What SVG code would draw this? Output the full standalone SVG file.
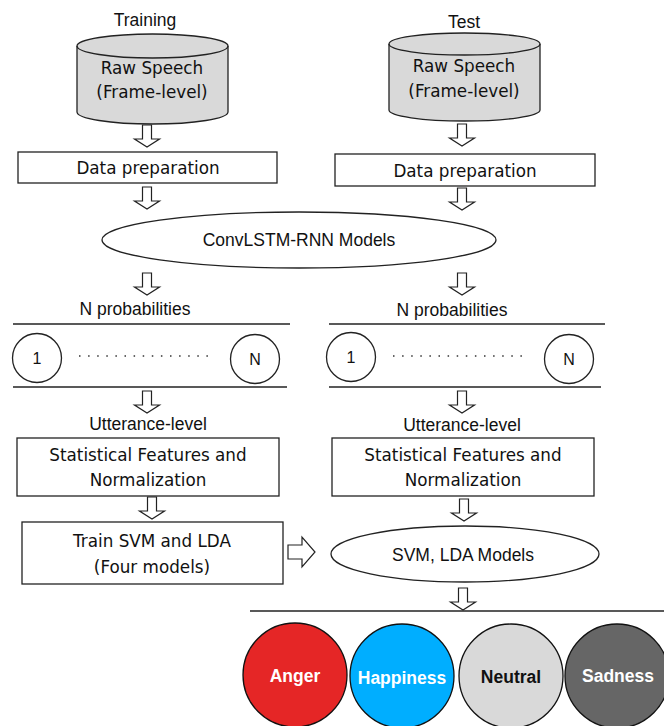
<svg xmlns="http://www.w3.org/2000/svg" width="664" height="726" viewBox="0 0 664 726">
<style>
text{font-family:"Liberation Sans",Arial,sans-serif;fill:#111;text-anchor:middle}
.t{font-size:17.5px}
.l{font-family:"DejaVu Sans","Liberation Sans",sans-serif;font-size:16.8px}
.n{font-size:16px}
.b{font-size:17.5px;font-weight:bold}
.box{fill:#fff;stroke:#222;stroke-width:1.3}
.cyl{fill:#d9d9d9;stroke:#222;stroke-width:1.3}
.ln{stroke:#222;stroke-width:1.3;fill:none}
.arr{fill:#fff;stroke:#222;stroke-width:1.2}
.dots{stroke:#333;stroke-width:1.5;stroke-dasharray:1.5 7.6;fill:none}
</style>
<defs>
<path id="darr" d="M-4.5,0 V14 H-12.5 L0,22 L12.5,14 H4.5 V0 Z"/>
</defs>

<text class="t" x="145" y="26">Training</text>
<text class="t" x="464" y="28">Test</text>

<g id="train_speech">
<path class="cyl" d="M77,46 A75.5,12 0 0 1 228,46 V112 A75.5,12 0 0 1 77,112 Z"/>
<path class="ln" d="M77,46 A75.5,12 0 0 0 228,46"/>
<text class="l" x="152" y="74">Raw Speech</text>
<text class="l" x="152" y="98">(Frame-level)</text>
</g>
<g id="test_speech">
<path class="cyl" d="M389,44 A75.5,11 0 0 1 540,44 V110 A75.5,11 0 0 1 389,110 Z"/>
<path class="ln" d="M389,44 A75.5,11 0 0 0 540,44"/>
<text class="l" x="464" y="72">Raw Speech</text>
<text class="l" x="464" y="97">(Frame-level)</text>
</g>

<g id="train_prep">
<rect class="box" x="18" y="152" width="259" height="31"/>
<text class="l" x="148" y="174">Data preparation</text>
</g>
<g id="test_prep">
<rect class="box" x="335" y="154" width="260" height="32"/>
<text class="l" x="465" y="177">Data preparation</text>
</g>

<g id="convlstm">
<ellipse class="box" cx="299" cy="240" rx="197" ry="28"/>
<text class="t" x="299" y="246">ConvLSTM-RNN Models</text>
</g>

<text class="t" x="135" y="315">N probabilities</text>
<text class="t" x="452" y="316">N probabilities</text>

<g id="train_probs">
<line class="ln" x1="13" y1="324" x2="290" y2="324"/>
<line class="ln" x1="13" y1="387" x2="287" y2="387"/>
<circle class="box" cx="37" cy="358" r="24.5"/>
<text class="n" x="37" y="364">1</text>
<line class="dots" x1="79" y1="356" x2="210" y2="356"/>
<circle class="box" cx="255" cy="359" r="24.5"/>
<text class="n" x="255" y="365">N</text>
</g>
<g id="test_probs">
<line class="ln" x1="329" y1="324" x2="605" y2="324"/>
<line class="ln" x1="329" y1="387" x2="601" y2="387"/>
<circle class="box" cx="351" cy="357" r="24.5"/>
<text class="n" x="351" y="363">1</text>
<line class="dots" x1="393" y1="356" x2="524" y2="356"/>
<circle class="box" cx="569" cy="359" r="24.5"/>
<text class="n" x="569" y="365">N</text>
</g>

<text class="t" x="148" y="430">Utterance-level</text>
<text class="t" x="462" y="431">Utterance-level</text>

<g id="train_stat">
<rect class="box" x="17" y="438" width="262" height="58"/>
<text class="l" x="148" y="461">Statistical Features and</text>
<text class="l" x="148" y="486">Normalization</text>
</g>
<g id="test_stat">
<rect class="box" x="332" y="438" width="262" height="58"/>
<text class="l" x="463" y="461">Statistical Features and</text>
<text class="l" x="463" y="486">Normalization</text>
</g>

<g id="train_svm">
<rect class="box" x="22" y="522" width="261" height="62"/>
<text class="l" x="152" y="547">Train SVM and LDA</text>
<text class="l" x="152" y="573">(Four models)</text>
</g>
<g id="svm_models">
<ellipse class="box" cx="465" cy="554" rx="134" ry="28"/>
<text class="t" x="463" y="561">SVM, LDA Models</text>
</g>

<g id="classes">
<line class="ln" x1="250" y1="611" x2="664" y2="611"/>
<g id="anger"><circle cx="295" cy="675" r="52" fill="#e52626" stroke="#111" stroke-width="1.3"/><text class="b" x="295" y="682" style="fill:#fff">Anger</text></g>
<g id="happiness"><circle cx="402" cy="676" r="52" fill="#00aeff" stroke="#111" stroke-width="1.3"/><text class="b" x="402" y="684" style="fill:#fff">Happiness</text></g>
<g id="neutral"><circle cx="511" cy="676" r="52" fill="#d9d9d9" stroke="#111" stroke-width="1.3"/><text class="b" x="511" y="683" style="fill:#111">Neutral</text></g>
<g id="sadness"><circle cx="617" cy="676" r="52" fill="#666666" stroke="#111" stroke-width="1.3"/><text class="b" x="618" y="682" style="fill:#fff">Sadness</text></g>
</g>

<g id="connectors">
<use href="#darr" class="arr" x="147" y="125"/>
<use href="#darr" class="arr" x="462" y="124"/>
<use href="#darr" class="arr" x="147" y="187"/>
<use href="#darr" class="arr" x="462" y="188"/>
<use href="#darr" class="arr" x="147" y="273"/>
<use href="#darr" class="arr" x="462" y="273"/>
<use href="#darr" class="arr" x="147" y="391"/>
<use href="#darr" class="arr" x="462" y="391"/>
<use href="#darr" class="arr" x="152" y="497"/>
<use href="#darr" class="arr" x="464" y="499"/>
<use href="#darr" class="arr" x="463" y="588"/>
<path class="arr" d="M288,545 H302 V537 L315,552 L302,567 V559 H288 Z"/>
</g>
</svg>
